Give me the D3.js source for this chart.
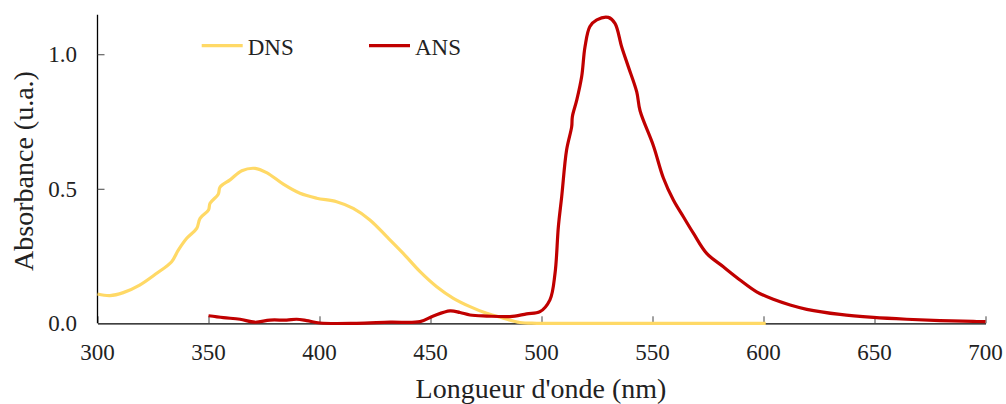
<!DOCTYPE html>
<html>
<head>
<meta charset="utf-8">
<script src="https://cdnjs.cloudflare.com/ajax/libs/d3/7.8.5/d3.min.js"></script>
<style>
  body { margin: 0; background: #fff; }
  svg text { font-family: "Liberation Serif", "DejaVu Serif", serif; fill: #222; }
</style>
</head>
<body>
<div id="chart"></div>
<script>
// wavelengths (nm) and absorbance
var dnsNm  = [300, 305.6, 311.6, 319, 326.7, 333.4, 336.4, 340.2, 344.7, 346.2, 350, 350.7, 354.4, 355.2, 359.7, 365, 371, 376.2, 383.7, 391.2, 398.7, 407.7, 415.2, 422.7, 430.3, 437.7, 445.3, 452.8, 460.3, 467.8, 475.3, 482.8, 490.3, 497.8, 520, 550, 575, 601];
var dnsAbs = [0.109, 0.103, 0.114, 0.142, 0.186, 0.229, 0.272, 0.316, 0.353, 0.39, 0.421, 0.446, 0.48, 0.506, 0.533, 0.567, 0.576, 0.56, 0.517, 0.483, 0.465, 0.452, 0.427, 0.384, 0.322, 0.26, 0.192, 0.136, 0.093, 0.062, 0.037, 0.019, 0.003, 0, 0, 0, 0, 0];

var ansNm  = [350, 356.7, 364.2, 370.9, 377.7, 385.2, 389.7, 394.2, 400.2, 416.7, 431.8, 445.3, 451.3, 458.8, 463.3, 467.8, 475.3, 485.8, 493.3, 499.3, 503.8, 506.1, 507.6, 509.1, 511.3, 513.6, 513.9, 515.9, 518.1, 519.6, 521.8, 524.9, 530.1, 533.1, 536.1, 539.1, 542.9, 544.4, 550.4, 554.9, 559.4, 563.9, 568.4, 574.4, 581.9, 589.4, 596.9, 604.4, 612, 619.5, 634.5, 649.5, 664.5, 679.5, 694.5, 700];
var ansAbs = [0.028, 0.021, 0.015, 0.004, 0.012, 0.012, 0.015, 0.01, 0.001, 0, 0.004, 0.006, 0.027, 0.046, 0.04, 0.031, 0.027, 0.025, 0.035, 0.043, 0.087, 0.186, 0.359, 0.471, 0.644, 0.731, 0.768, 0.83, 0.917, 1.028, 1.103, 1.128, 1.137, 1.115, 1.028, 0.954, 0.86, 0.79, 0.66, 0.54, 0.458, 0.396, 0.335, 0.26, 0.21, 0.161, 0.117, 0.089, 0.068, 0.052, 0.033, 0.022, 0.015, 0.01, 0.007, 0.006];

var seriesNames = ["DNS", "ANS"];
var seriesColors = ["#ffd966", "#c00000"];
var xTicks = [300, 350, 400, 450, 500, 550, 600, 650, 700];
var yTicks = [0, 0.5, 1.0];

var W = 1006, H = 404;
var pLeft = 97.5, pRight = 985.5, pTop = 14.7, pBottom = 323.3;

var svg = d3.select("#chart").append("svg")
    .attr("width", W)
    .attr("height", H);

var x = d3.scaleLinear().domain([300, 700]).range([pLeft, pRight]);
var y = d3.scaleLinear().domain([0, 1.147]).range([pBottom, pTop]);

// axes, ticks pointing inward
var xAxis = svg.append("g")
    .attr("transform", "translate(0," + pBottom + ")")
    .call(d3.axisTop(x).tickValues(xTicks).tickSizeInner(7).tickSizeOuter(0).tickFormat(""));
xAxis.select(".domain").attr("stroke", "#000").attr("stroke-width", 1.3);
xAxis.selectAll(".tick line").attr("stroke", "#444");

var yAxis = svg.append("g")
    .attr("transform", "translate(" + pLeft + ",0)")
    .call(d3.axisRight(y).tickValues(yTicks.filter(function(d){ return d > 0; })).tickSizeInner(7).tickSizeOuter(0).tickFormat(""));
yAxis.select(".domain").attr("d", "M0," + pTop + "V" + pBottom).attr("stroke", "#000").attr("stroke-width", 1.3);
yAxis.selectAll(".tick line").attr("stroke", "#444");

// tick labels
svg.selectAll(".xlab").data(xTicks).enter().append("text")
    .attr("x", function(d){ return x(d); })
    .attr("y", 360)
    .attr("text-anchor", "middle")
    .style("font-size", "23px")
    .text(function(d){ return d; });

svg.selectAll(".ylab").data(yTicks).enter().append("text")
    .attr("x", 77)
    .attr("y", function(d){ return y(d) + 8; })
    .attr("text-anchor", "end")
    .style("font-size", "23px")
    .text(function(d){ return d3.format(".1f")(d); });

// axis titles
svg.append("text")
    .attr("x", 541)
    .attr("y", 398)
    .attr("text-anchor", "middle")
    .style("font-size", "28px")
    .text("Longueur d'onde (nm)");

svg.append("text")
    .attr("transform", "translate(33,171) rotate(-90)")
    .attr("text-anchor", "middle")
    .style("font-size", "28px")
    .text("Absorbance (u.a.)");

// curves
var line = d3.line()
    .x(function(d){ return x(d[0]); })
    .y(function(d){ return y(d[1]); })
    .curve(d3.curveCatmullRom.alpha(0.5));

var dnsData = d3.zip(dnsNm, dnsAbs);
var ansData = d3.zip(ansNm, ansAbs);

svg.append("path").datum(dnsData)
    .attr("fill", "none")
    .attr("stroke", seriesColors[0])
    .attr("stroke-width", 3.2)
    .attr("stroke-linejoin", "round")
    .attr("d", line);

svg.append("path").datum(ansData)
    .attr("fill", "none")
    .attr("stroke", seriesColors[1])
    .attr("stroke-width", 3.2)
    .attr("stroke-linejoin", "round")
    .attr("d", line);

// legend
var legX = [201.7, 369];
var leg = svg.selectAll(".leg").data(seriesNames).enter().append("g")
    .attr("transform", function(d, i){ return "translate(" + legX[i] + ",45.7)"; });
leg.append("line")
    .attr("x1", 0).attr("x2", 41)
    .attr("stroke", function(d, i){ return seriesColors[i]; })
    .attr("stroke-width", 3.2);
leg.append("text")
    .attr("x", 46)
    .attr("y", 9)
    .style("font-size", "23px")
    .text(function(d){ return d; });
</script>
</body>
</html>
